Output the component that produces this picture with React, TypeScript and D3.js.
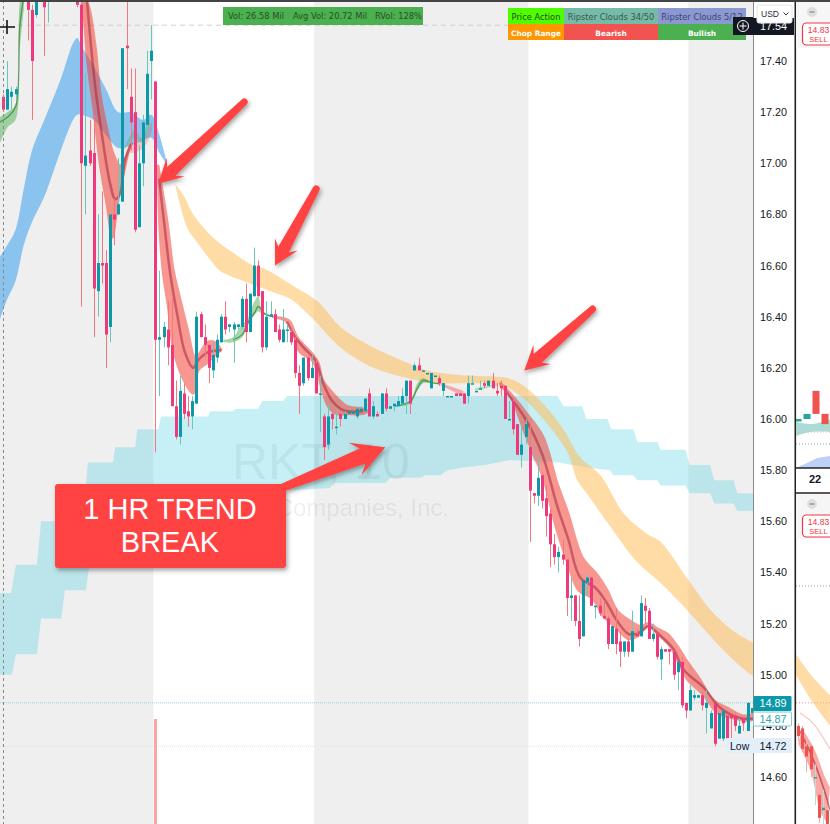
import { scaleLinear, line, curveCatmullRom, curveLinear } from "d3";

// candles, one per 30 min bar (prices above the top of the pane are simply clipped)
const opens = [
  17.26,17.21,17.26,17.27,17.70,17.78,17.80,17.60,17.58,17.80,
  17.72,17.66,17.80,17.75,17.85,17.80,17.90,17.85,17.78,17.62,
  16.99,17.05,17.04,16.50,16.61,16.61,16.36,16.80,16.80,16.85,
  17.46,17.26,17.20,16.75,17.00,17.15,17.40,17.32,16.31,16.32,
  16.35,16.29,16.05,15.93,16.10,16.03,16.01,16.06,16.41,16.32,
  16.29,16.19,16.24,16.30,16.40,16.36,16.35,16.36,16.36,16.47,
  16.34,16.48,16.60,16.50,16.28,16.40,16.41,16.35,16.30,16.35,
  16.34,16.31,16.18,16.14,16.24,16.16,16.22,16.10,16.01,15.90,
  16.02,15.97,16.02,16.00,16.02,16.02,16.01,16.03,16.03,16.10,
  16.01,16.02,16.02,16.10,16.04,16.05,16.05,16.06,16.09,16.15,
  16.19,16.21,16.19,16.18,16.12,16.17,16.16,16.11,16.09,16.09,
  16.10,16.10,16.10,16.09,16.14,16.11,16.12,16.14,16.13,16.15,
  16.11,16.13,16.13,16.00,16.07,15.98,15.86,15.93,15.89,15.71,
  15.70,15.78,15.69,15.63,15.51,15.46,15.47,15.45,15.30,15.31,
  15.21,15.15,15.36,15.38,15.27,15.27,15.23,15.22,15.12,15.18,
  15.13,15.09,15.13,15.09,15.16,15.15,15.27,15.25,15.14,15.16,
  15.06,15.10,15.10,15.09,15.01,15.05,14.89,14.86,14.91,14.91,
  14.92,14.87,14.79,14.89,14.75,14.75,14.84,14.84,14.84,14.77,
  14.83,14.78,14.85,
];
const closes = [
  17.21,17.29,17.28,17.29,17.78,17.85,17.60,17.40,17.75,17.72,
  17.61,17.76,17.75,17.85,17.80,17.90,17.85,17.78,17.62,17.00,
  17.03,17.00,16.51,16.61,16.60,16.33,16.80,16.78,16.84,17.45,
  17.45,17.16,16.74,17.00,17.16,17.35,17.44,16.31,16.32,16.36,
  16.28,16.05,15.93,16.11,16.02,16.01,16.07,16.40,16.32,16.29,
  16.20,16.25,16.31,16.40,16.35,16.37,16.37,16.37,16.47,16.34,
  16.49,16.60,16.48,16.28,16.40,16.41,16.34,16.31,16.35,16.35,
  16.30,16.18,16.13,16.24,16.16,16.20,16.10,16.10,15.89,16.01,
  16.00,15.97,16.00,16.02,16.03,16.03,16.04,16.04,16.08,16.01,
  16.05,16.01,16.10,16.04,16.05,16.06,16.07,16.09,16.15,16.06,
  16.21,16.19,16.19,16.18,16.18,16.17,16.14,16.14,16.09,16.09,
  16.09,16.09,16.06,16.14,16.14,16.11,16.12,16.13,16.15,16.12,
  16.10,16.12,16.00,16.00,15.96,15.86,15.90,15.98,15.72,15.70,
  15.77,15.68,15.62,15.51,15.46,15.48,15.45,15.30,15.31,15.21,
  15.14,15.37,15.38,15.27,15.27,15.24,15.22,15.12,15.19,15.12,
  15.09,15.13,15.09,15.17,15.15,15.28,15.25,15.14,15.16,15.07,
  15.10,15.09,15.09,15.00,15.05,14.88,14.86,14.94,14.92,14.92,
  14.88,14.89,14.85,14.73,14.85,14.86,14.75,14.83,14.80,14.80,
  14.81,14.89,14.87,
];
const highs = [
  17.27,17.40,17.30,17.30,17.80,17.88,17.85,17.62,17.80,17.85,
  17.75,17.80,17.85,17.88,17.90,17.95,17.95,17.88,17.80,17.64,
  17.35,17.17,17.19,16.80,16.89,16.66,16.80,16.86,17.02,17.45,
  17.63,17.37,17.37,17.07,17.19,17.44,17.54,17.32,16.58,16.38,
  16.46,16.47,16.15,16.17,16.14,16.09,16.09,16.42,16.42,16.37,
  16.29,16.30,16.33,16.41,16.46,16.37,16.38,16.37,16.48,16.53,
  16.49,16.67,16.62,16.50,16.46,16.46,16.43,16.37,16.43,16.37,
  16.35,16.32,16.21,16.24,16.25,16.25,16.23,16.17,16.02,16.06,
  16.04,16.03,16.03,16.03,16.03,16.03,16.04,16.05,16.08,16.12,
  16.07,16.03,16.10,16.12,16.05,16.06,16.09,16.12,16.15,16.15,
  16.22,16.24,16.19,16.18,16.18,16.17,16.17,16.14,16.09,16.09,
  16.10,16.10,16.10,16.17,16.17,16.11,16.15,16.15,16.15,16.18,
  16.14,16.15,16.13,16.07,16.08,15.98,15.98,16.00,16.00,15.71,
  15.85,15.79,15.74,15.65,15.55,15.50,15.53,15.45,15.38,15.31,
  15.31,15.37,15.39,15.38,15.27,15.30,15.29,15.23,15.19,15.26,
  15.17,15.13,15.14,15.25,15.18,15.31,15.30,15.26,15.20,15.16,
  15.11,15.10,15.10,15.09,15.05,15.07,14.89,14.96,14.94,14.92,
  14.94,14.94,14.86,14.89,14.85,14.86,14.84,14.84,14.85,14.83,
  14.84,14.89,14.87,
];
const lows = [
  17.20,17.21,17.21,17.25,17.66,17.75,17.48,17.17,17.57,17.70,
  17.42,17.55,17.72,17.72,17.76,17.78,17.82,17.72,17.61,16.44,
  16.80,16.99,16.32,16.40,16.53,16.20,16.30,16.68,16.80,16.85,
  17.29,17.05,16.73,16.75,16.91,17.11,17.25,15.87,16.09,16.28,
  16.21,16.05,15.92,15.90,16.00,15.97,15.96,16.06,16.32,16.24,
  16.14,16.16,16.22,16.30,16.33,16.34,16.22,16.35,16.35,16.30,
  16.34,16.48,16.48,16.26,16.27,16.40,16.34,16.30,16.30,16.30,
  16.29,16.16,16.02,16.13,16.15,16.16,16.10,15.95,15.84,15.88,
  15.96,15.94,15.97,16.00,16.02,16.02,16.00,16.03,16.03,16.01,
  16.00,16.01,16.02,16.03,16.04,16.03,16.05,16.05,16.02,16.02,
  16.19,16.19,16.19,16.18,16.12,16.17,16.13,16.09,16.09,16.09,
  16.09,16.09,16.06,16.06,16.14,16.11,16.12,16.12,16.13,16.12,
  16.09,16.09,16.00,16.00,15.94,15.86,15.81,15.90,15.52,15.67,
  15.66,15.65,15.54,15.42,15.43,15.40,15.43,15.23,15.21,15.19,
  15.11,15.15,15.31,15.27,15.22,15.23,15.22,15.10,15.12,15.08,
  15.03,15.07,15.07,15.09,15.15,15.15,15.20,15.14,15.13,15.06,
  14.98,15.09,15.04,14.98,14.94,14.87,14.83,14.86,14.90,14.91,
  14.86,14.77,14.79,14.72,14.75,14.74,14.75,14.75,14.78,14.77,
  14.78,14.78,14.85,
];

// clouds as [bar index, price]
const tealUpper: [number, number][] = [
  [-1,15.32],[1.9,15.32],[3.1,15.43],[8.2,15.43],[9.2,15.60],[14.3,15.60],[15,15.72],[20,15.72],[20.6,15.83],
  [26.7,15.83],[27.2,15.89],[32.1,15.89],[32.6,15.96],[37.7,15.96],[38.4,16.01],[49.8,16.01],[50.3,16.03],
  [55.9,16.03],[56.6,16.04],[62,16.04],[63,16.07],[68.1,16.07],[69,16.09],[134.8,16.09],[136.2,16.05],
  [140.8,16.05],[141.8,16.00],[146.9,16.00],[147.9,15.96],[153.2,15.96],[154.2,15.91],[159.1,15.91],
  [159.8,15.88],[165.9,15.88],[166.9,15.82],[171.9,15.82],[172.9,15.76],[177.6,15.76],[178.5,15.71],[183,15.71],
];
const tealLower: [number, number][] = [
  [-1,15.00],[2.1,15.00],[3.1,15.08],[8.2,15.08],[9.2,15.22],[14.1,15.22],[15,15.33],[20.1,15.33],[20.9,15.42],
  [27.2,15.42],[28,15.51],[34,15.51],[34.7,15.59],[40.6,15.59],[41.3,15.64],[47.9,15.64],[48.6,15.69],
  [57.6,15.69],[58.3,15.71],[79.5,15.73],[80.2,15.75],[92.9,15.75],[94.1,15.77],[101.4,15.77],[102.6,15.78],
  [106.3,15.78],[108,15.80],[111.9,15.81],[117.2,15.82],[123.3,15.84],[135,15.83],[142,15.81],[147.6,15.80],
  [148.4,15.78],[153.2,15.78],[154.2,15.76],[159.1,15.76],[159.8,15.74],[165.9,15.74],[166.9,15.71],
  [171.9,15.71],[172.9,15.67],[177.6,15.67],[178.5,15.64],[183,15.64],
];
const blueUpper: [number, number][] = [
  [-1,16.63],[1,16.68],[3,16.74],[5,16.90],[7,17.05],[10,17.17],[14,17.33],[17,17.47],[18,17.49],[19,17.46],
  [22,17.38],[25,17.29],[28,17.20],[31,17.20],[34,17.17],[36,17.19],[38,17.11],[40,16.99],
];
const blueLower: [number, number][] = [
  [-1,16.38],[1,16.47],[3,16.54],[5,16.68],[7,16.77],[10,16.87],[14,17.05],[17,17.17],[18,17.19],[19,17.19],
  [22,17.17],[25,17.11],[28,17.06],[31,17.07],[34,17.09],[36,17.10],[38,17.04],[40,16.99],
];
const orangeUpper: [number, number][] = [
  [41.8,16.92],[44,16.87],[46.2,16.80],[51,16.71],[55.9,16.65],[60.8,16.60],[63.2,16.59],[65.6,16.57],
  [70.5,16.52],[76.4,16.46],[82,16.36],[90,16.28],[98.3,16.22],[103.1,16.19],[112.8,16.17],[122.6,16.16],
  [126.5,16.13],[131.3,16.06],[136.2,15.96],[140.3,15.85],[145.2,15.78],[150.9,15.63],[156.6,15.55],
  [159.8,15.52],[166.6,15.37],[172.7,15.24],[178.5,15.16],[183,15.12],
];
const orangeLower: [number, number][] = [
  [41.8,16.92],[44.7,16.75],[47.2,16.69],[51,16.61],[52.7,16.58],[60,16.53],[64.9,16.50],[69.8,16.47],[75.4,16.39],
  [82,16.28],[90,16.20],[98.3,16.16],[104.6,16.14],[112.8,16.14],[121.6,16.13],[126.5,16.08],[131.3,16.00],
  [137.2,15.87],[139.6,15.76],[142.3,15.70],[147.6,15.58],[154.2,15.44],[159.8,15.36],[164.7,15.28],
  [170.3,15.18],[176.1,15.08],[181,15.01],[183,14.99],
];
const redOneUpper: [number, number][] = [
  [18.5,17.66],[20.4,17.63],[22.3,17.47],[23.6,17.27],[25.3,17.13],[26.7,17.04],[28.4,16.99],[29.4,17.01],[30.8,17.07],
];
const redOneLower: [number, number][] = [
  [18.5,17.66],[19.2,17.63],[20.6,17.38],[22.1,17.20],[23.6,16.99],[25.3,16.83],[26.5,16.71],[28,16.86],[29.4,16.97],[30.8,17.07],
];
const redOneMid: [number, number][] = [
  [20.4,17.63],[22.3,17.31],[24.3,17.08],[26,16.92],[27.2,16.86],[28.4,16.88],[29.6,17.01],[31.3,17.08],
];
const redFadeUpper: [number, number][] = [[30.8,17.07],[33.3,17.09],[35,17.12],[36.2,17.17]];
const redFadeLower: [number, number][] = [[30.8,17.04],[33.3,17.05],[35,17.08],[36.2,17.13]];
const redTwoUpper: [number, number][] = [
  [37.7,16.99],[39.9,16.77],[41.3,16.59],[43,16.47],[44.7,16.36],[46.7,16.24],[47.9,16.26],[49.6,16.30],[51.5,16.30],[53,16.27],
];
const redTwoLower: [number, number][] = [
  [37.7,16.97],[38.1,16.73],[38.9,16.57],[40.1,16.44],[41.3,16.28],[43.7,16.16],[46.2,16.10],[47.4,16.19],[49.6,16.22],[51.5,16.25],[53,16.27],
];
const redTwoMid: [number, number][] = [
  [37.9,16.94],[39.4,16.73],[40.6,16.57],[42.3,16.41],[44.2,16.26],[46.2,16.20],[47.4,16.23],[49.6,16.26],[53,16.27],
];
const redThreeUpper: [number, number][] = [
  [65.6,16.40],[69,16.39],[69.8,16.38],[71.5,16.32],[75.4,16.25],[76.6,16.22],[77.8,16.15],[80.2,16.10],[83.6,16.05],[87.5,16.04],[88.8,16.03],
];
const redThreeLower: [number, number][] = [
  [65.6,16.40],[69,16.38],[71,16.31],[72.2,16.26],[75.1,16.23],[76.3,16.19],[77.6,16.11],[79,16.05],[81.2,16.02],[83.6,16.02],[87.5,16.02],[88.8,16.03],
];
const redThreeMid: [number, number][] = [
  [69,16.38],[71,16.32],[73,16.28],[75.9,16.23],[77.8,16.14],[80,16.07],[82,16.04],[83.6,16.03],[87.5,16.03],
];
const redThinUpper: [number, number][] = [[106.5,16.14],[111.9,16.11]];
const redThinLower: [number, number][] = [[106.5,16.13],[111.9,16.09]];
const redFourUpper: [number, number][] = [
  [120.9,16.14],[123.3,16.10],[127.4,16.02],[131.3,15.93],[134.7,15.75],[137.4,15.63],[140.8,15.46],[144.5,15.39],
  [146.9,15.33],[149.3,15.25],[152.5,15.21],[154.9,15.19],[156.9,15.20],[159.1,15.18],[161.5,15.16],[164,15.11],
  [166.4,15.05],[169.5,14.98],[172.7,14.90],[176.1,14.87],[180,14.84],[183,14.85],
];
const redFourLower: [number, number][] = [
  [120.9,16.13],[123.3,16.09],[126.5,15.96],[128.7,15.87],[131.3,15.77],[134.7,15.56],[137.4,15.43],[139.9,15.33],
  [143.2,15.30],[145.9,15.23],[149.3,15.18],[152,15.14],[154.2,15.15],[156.9,15.19],[159.1,15.16],[162.2,15.11],
  [164.7,15.03],[166.4,14.98],[170.3,14.92],[173.7,14.85],[177.6,14.83],[181,14.82],[183,14.83],
];
const redFourMid: [number, number][] = [
  [122.1,16.11],[127,16.00],[131.1,15.86],[134.7,15.66],[137.4,15.53],[140.3,15.38],[144,15.34],[146.4,15.29],
  [149.3,15.21],[152,15.16],[154.2,15.16],[156.9,15.19],[159.3,15.16],[163,15.10],[165.4,15.02],[170.3,14.95],
  [174.4,14.87],[179.3,14.83],[183,14.83],
];
const greenOneUpper: [number, number][] = [[-1,17.18],[1,17.20],[3,17.23],[4,17.62],[5,17.68]];
const greenOneLower: [number, number][] = [[-1,17.07],[1,17.14],[3,17.17],[4,17.44],[5,17.60]];
const greenOneMid: [number, number][] = [[-1,17.16],[1,17.18],[3,17.22],[4,17.53],[5,17.65]];
const greenTwoUpper: [number, number][] = [
  [53.5,16.31],[55.9,16.32],[57.6,16.36],[59.3,16.39],[60.8,16.45],[62,16.48],[63,16.42],[64.4,16.41],[65.6,16.40],
];
const greenTwoLower: [number, number][] = [
  [53.5,16.30],[55.9,16.30],[58.1,16.32],[59.3,16.36],[60.8,16.40],[62,16.42],[63,16.41],[65.6,16.40],
];
const greenTwoMid: [number, number][] = [
  [55.9,16.31],[58.1,16.33],[59.6,16.38],[61.3,16.42],[62,16.44],[63.7,16.41],[65.6,16.40],
];
const greenThreeUpper: [number, number][] = [[95.3,16.05],[99,16.07],[100.7,16.14],[102.1,16.16],[104.6,16.14],[106.3,16.14]];
const greenThreeLower: [number, number][] = [[95.3,16.05],[99,16.06],[100.7,16.11],[102.1,16.14],[104.6,16.14],[106.3,16.13]];
const greenThreeMid: [number, number][] = [[95.3,16.05],[99,16.07],[100.7,16.12],[102.1,16.15],[104.6,16.14],[106.3,16.14]];
const greenFaintUpper: [number, number][] = [[114.8,16.12],[120.1,16.14]];
const greenFaintLower: [number, number][] = [[114.8,16.11],[120.1,16.13]];
const greenTwistUpper: [number, number][] = [[29.5,17.06],[32,17.13],[33.5,17.10],[35.7,17.20]];
const greenTwistLower: [number, number][] = [[29.5,17.05],[32,17.10],[33.5,17.08],[35.7,17.15]];

const priceTicks = [17.4,17.2,17.0,16.8,16.6,16.4,16.2,16.0,15.8,15.6,15.4,15.2,15.0,14.8,14.6];
const greySessions: [number, number][] = [[-1,36.5],[75.6,127.7],[166.6,183]];
const volumeSpikeBar = 37;
const volumeSpike = 26.58;
const lastPrice = 14.89;
const lowPrice = 14.72;
const crosshairPrice = 17.54;
const legendRows = [
  [["Price Action","#4dfd00","#2c4a1c"],["Ripster Clouds 34/50","#76bba8","#35584e"],["Ripster Clouds 5/12","#8b98d2","#3c4470"]],
  [["Chop Range","#ff9800","#ffffff"],["Bearish","#f05350","#ffffff"],["Bullish","#4caf50","#ffffff"]],
];
const legendColumns = [56, 94, 88];

// neighbour pane on the right, same price scale
const miniOpens = [14.80,14.79,14.72,14.72,14.60,14.53,14.47,14.47,14.44];
const miniCloses = [14.76,14.71,14.68,14.63,14.60,14.44,14.48,14.41,14.40];
const miniHighs = [14.81,14.80,14.74,14.73,14.65,14.56,14.55,14.48,14.45];
const miniLows = [14.74,14.70,14.62,14.60,14.49,14.42,14.38,14.38,14.38];
const miniOrangeUpper: [number, number][] = [[-0.6,15.08],[3.6,14.99],[7.7,14.92]];
const miniOrangeLower: [number, number][] = [[-0.6,15.00],[3.6,14.89],[7.7,14.80]];
const miniPinkLine: [number, number][] = [[0.4,14.85],[3.6,14.81],[7.7,14.71]];
const miniRedUpper: [number, number][] = [[0.9,14.79],[3.6,14.72],[6.5,14.60],[7.7,14.56]];
const miniRedLower: [number, number][] = [[0,14.73],[2.9,14.63],[5.3,14.47],[7,14.42]];
const miniRedMid: [number, number][] = [[0.4,14.78],[3.6,14.67],[6.5,14.54],[7.7,14.47]];
const upperPaneOpens = [15.99,16.00,16.11,16.02];
const upperPaneCloses = [16.00,16.02,16.02,15.98];
const upperPaneTealUpper: [number, number][] = [[-0.5,15.99],[1.5,15.98],[3.7,16.00]];
const upperPaneTealLower: [number, number][] = [[-0.5,15.93],[1.5,15.95],[3.7,15.95]];

// arrows as [bar index, price] for tail and tip, last one is drawn larger
const arrows: [number, number, number, number, number][] = [
  [58.6,17.24,37.7,16.92,1],
  [76.1,16.90,66.1,16.60,1],
  [143.3,16.43,126.7,16.19,1],
  [66.1,15.72,92.9,15.89,1.35],
];

const PANE_W = 753;
const H = 824;
const FONT = "'Liberation Sans', Arial, sans-serif";
const UI_FONT = "'DejaVu Sans', sans-serif";
const TEAL = "#0b98a8";
const PINK = "#ee3a7c";

const x = scaleLinear().domain([0, 182]).range([3.2, 751.7]);
const y = scaleLinear().domain([17.4, 14.6]).range([61, 777]);
const miniX = scaleLinear().domain([0, 8]).range([798.3, 831.1]);
const upperX = scaleLinear().domain([0, 3]).range([798, 825]);
const volumeY = scaleLinear().domain([0, 26.58]).range([H, 719]);

const band = (upper: [number, number][], lower: [number, number][], sx = x, stepped = false) => {
  const path = line<[number, number]>()
    .x((d) => sx(d[0]))
    .y((d) => y(d[1]))
    .curve(stepped ? curveLinear : curveCatmullRom);
  return `${path(upper)}L${path([...lower].reverse())!.slice(1)}Z`;
};
const mid = (pts: [number, number][], sx = x) =>
  line<[number, number]>()
    .x((d) => sx(d[0]))
    .y((d) => y(d[1]))
    .curve(curveCatmullRom)(pts)!;

const arrowPath = ([ti, tp, hi, hp, s]: [number, number, number, number, number]) => {
  const x0 = x(ti), y0 = y(tp), x1 = x(hi), y1 = y(hp);
  const len = Math.hypot(x1 - x0, y1 - y0);
  const ux = (x1 - x0) / len, uy = (y1 - y0) / len;
  const nx = -uy, ny = ux;
  const p = (back: number, side: number) => `${x1 - ux * back + nx * side},${y1 - uy * back + ny * side}`;
  return `M${p(len, 3.5)}L${p(18 * s, 6 * s)}L${p(24 * s, 13 * s)}L${p(0, 0)}L${p(24 * s, -13 * s)}L${p(18 * s, -6 * s)}L${p(len, -3.5)}A3.5 3.5 0 0 0 ${p(len, 3.5)}Z`;
};

const RedCloud = ({ upper, lower, center }: { upper: [number, number][]; lower: [number, number][]; center: [number, number][] }) => (
  <g>
    <path d={band(upper, lower)} fill="#f44336" stroke="#f44336" strokeWidth={2.5} strokeLinejoin="round" opacity={0.55} />
    <path d={mid(center)} fill="none" stroke="#a01c3a" strokeOpacity={0.5} strokeWidth={2.5} />
  </g>
);
const GreenCloud = ({ upper, lower, center }: { upper: [number, number][]; lower: [number, number][]; center: [number, number][] }) => (
  <g>
    <path d={band(upper, lower)} fill="#4caf50" fillOpacity={0.5} />
    <path d={mid(center)} fill="none" stroke="#2e7d32" strokeOpacity={0.7} strokeWidth={1.3} />
  </g>
);

const SellButton = ({ top }: { top: number }) => (
  <g>
    <rect x={802.5} y={top} width={40} height={22} rx={4} fill="#fff" stroke="#f23645" strokeWidth={1.2} />
    <text x={818.5} y={top + 9.5} textAnchor="middle" fontSize={8.6} fontFamily={FONT} fill="#f23645">14.83</text>
    <text x={818.5} y={top + 18.5} textAnchor="middle" fontSize={7.5} fontFamily={FONT} fill="#f23645">SELL</text>
  </g>
);

const App = () => (
  <svg
    width={830}
    height={H}
    viewBox={`0 0 830 ${H}`}
    style={{ position: "absolute", left: 0, top: 0, display: "block", background: "#fff" }}
  >
    <defs>
      <clipPath id="pane"><rect x={0} y={2} width={PANE_W} height={H} /></clipPath>
      <clipPath id="side"><rect x={796} y={2} width={34} height={H} /></clipPath>
      <filter id="shadow" x="-20%" y="-20%" width="140%" height="140%">
        <feDropShadow dx={1.5} dy={2.5} stdDeviation={2} floodColor="#333" floodOpacity={0.45} />
      </filter>
    </defs>

    <g clipPath="url(#pane)">
      {greySessions.map(([a, b]) => (
        <rect key={a} x={x(a)} y={0} width={x(b) - x(a)} height={H} fill="#efefef" />
      ))}

      <text x={232} y={479} fontSize={50} fontFamily={FONT} fill="#000" fillOpacity={0.07}>RKT, 10</text>
      <text x={449} y={516} textAnchor="end" fontSize={24} fontFamily={FONT} fill="#000" fillOpacity={0.08}>Rocket Companies, Inc.</text>

      <path d={band(tealUpper, tealLower, x, true)} fill="#4dd0e1" fillOpacity={0.32} />
      <path d={band(blueUpper, blueLower)} fill="#5aaeee" fillOpacity={0.68} />
      <path d={band(orangeUpper, orangeLower)} fill="#ffb74d" fillOpacity={0.5} />

      <line x1={18} x2={PANE_W} y1={y(crosshairPrice)} y2={y(crosshairPrice)} stroke="#cfcfcf" strokeWidth={1} strokeDasharray="5 4" />
      <line x1={0} x2={PANE_W} y1={y(lastPrice)} y2={y(lastPrice)} stroke="#8fd0d6" strokeWidth={1} strokeDasharray="1 1" />
      <line x1={0} x2={PANE_W} y1={y(lowPrice)} y2={y(lowPrice)} stroke="#e2e2e2" strokeWidth={1} strokeDasharray="1 1" />

      <RedCloud upper={redOneUpper} lower={redOneLower} center={redOneMid} />
      <path d={band(redFadeUpper, redFadeLower)} fill="#f44336" fillOpacity={0.25} />
      <RedCloud upper={redTwoUpper} lower={redTwoLower} center={redTwoMid} />
      <RedCloud upper={redThreeUpper} lower={redThreeLower} center={redThreeMid} />
      <path d={band(redThinUpper, redThinLower)} fill="#f44336" fillOpacity={0.4} />
      <RedCloud upper={redFourUpper} lower={redFourLower} center={redFourMid} />
      <GreenCloud upper={greenOneUpper} lower={greenOneLower} center={greenOneMid} />
      <GreenCloud upper={greenTwoUpper} lower={greenTwoLower} center={greenTwoMid} />
      <GreenCloud upper={greenThreeUpper} lower={greenThreeLower} center={greenThreeMid} />
      <path d={band(greenFaintUpper, greenFaintLower)} fill="#4caf50" fillOpacity={0.35} />
      <path d={band(greenTwistUpper, greenTwistLower)} fill="#4caf50" fillOpacity={0.35} />

      <rect
        x={Math.round(x(volumeSpikeBar)) - 1}
        y={volumeY(volumeSpike)}
        width={3}
        height={H - volumeY(volumeSpike)}
        fill="#fca5a5"
      />

      {opens.map((o, i) => {
        const c = closes[i];
        const up = c >= o;
        const cx = Math.round(x(i));
        const top = y(Math.max(o, c));
        const bottom = y(Math.min(o, c));
        return (
          <g key={i}>
            <line x1={cx + 0.5} x2={cx + 0.5} y1={y(highs[i])} y2={y(lows[i])} stroke={up ? "#66c7bc" : "#f4767e"} strokeWidth={1} />
            <rect x={cx - 1} y={top} width={3} height={Math.max(bottom - top, 1.5)} fill={up ? TEAL : PINK} />
          </g>
        );
      })}
    </g>

    <line x1={3.5} x2={3.5} y1={0} y2={H} stroke="#8a8a8a" strokeDasharray="3 3" />
    <path d="M7 20V34M0 27H15" stroke="#111" strokeWidth={1.6} fill="none" />

    {/* header strips */}
    <rect x={223} y={7} width={200} height={18} fill="#4caf50" />
    <g fontFamily={UI_FONT} fontSize={8.3} fill="#27502a">
      <text x={228} y={19}>Vol: 26.58 Mil</text>
      <text x={293} y={19}>Avg Vol: 20.72 Mil</text>
      <text x={375} y={19}>RVol: 128%</text>
    </g>
    {legendRows.map((row, r) => {
      let left = 508;
      return row.map(([label, bg, fg], c) => {
        const w = legendColumns[c];
        const cell = (
          <g key={label}>
            <rect x={left} y={8 + r * 16} width={w} height={16} fill={bg} />
            <text
              x={left + w / 2}
              y={19.5 + r * 16}
              textAnchor="middle"
              fontSize={r === 1 ? 7.4 : 8.3}
              fontWeight={r === 1 ? 700 : 400}
              fontFamily={UI_FONT}
              fill={fg}
            >
              {label}
            </text>
          </g>
        );
        left += w;
        return cell;
      });
    })}

    {/* annotation */}
    <g filter="url(#shadow)">
      {arrows.map((a) => (
        <path key={a[0]} d={arrowPath(a)} fill="#ff4343" />
      ))}
      <rect x={55} y={484} width={231} height={84} rx={3} fill="#ff4343" />
    </g>
    <g fontFamily={FONT} fontSize={29} fill="#fff" textAnchor="middle">
      <text x={170} y={519}>1 HR TREND</text>
      <text x={170} y={552}>BREAK</text>
    </g>

    {/* price scale */}
    <rect x={PANE_W} y={0} width={43} height={H} fill="#fff" />
    <line x1={753.5} x2={753.5} y1={0} y2={H} stroke="#8a8a8a" strokeWidth={1} />
    {priceTicks.map((t) => (
      <text key={t} x={773.5} y={y(t)} dy={4} textAnchor="middle" fontSize={10.8} fontFamily={FONT} fill="#131722">
        {t.toFixed(2)}
      </text>
    ))}
    <rect x={733} y={17} width={20} height={18} fill="#131722" />
    <circle cx={743} cy={26} r={5.5} fill="none" stroke="#fff" strokeWidth={1} />
    <path d="M743 22.5V29.5M739.5 26H746.5" stroke="#fff" strokeWidth={1} />
    <rect x={753} y={18} width={41} height={17} fill="#131722" />
    <text x={773.5} y={y(crosshairPrice)} dy={5} textAnchor="middle" fontSize={10.8} fontFamily={FONT} fill="#fff">17.54</text>
    <rect x={757} y={5} width={35} height={18} rx={2} fill="#fff" stroke="#e4e4e4" />
    <text x={761} y={17} fontSize={8.5} fontFamily={FONT} fill="#1f2a44">USD</text>
    <path d="M783.5 12.5L786 15L788.5 12.5" fill="none" stroke="#333" />

    <rect x={753.5} y={696} width={38} height={15} fill={TEAL} rx={1} />
    <text x={773} y={y(lastPrice)} dy={4} textAnchor="middle" fontSize={10.8} fontFamily={FONT} fill="#fff">14.89</text>
    <rect x={753.5} y={712} width={38} height={14} fill="#fff" stroke="#7ccbd2" rx={1} />
    <text x={773} y={723} textAnchor="middle" fontSize={10.8} fontFamily={FONT} fill="#28a8b4">14.87</text>
    <rect x={726} y={738} width={66} height={15} fill="#e3eefb" rx={1} />
    <text x={730} y={749.5} fontSize={10.5} fontFamily={FONT} fill="#131722">Low</text>
    <text x={773} y={y(lowPrice)} dy={4} textAnchor="middle" fontSize={10.8} fontFamily={FONT} fill="#131722">14.72</text>

    {/* neighbour panes */}
    <rect x={794.5} y={0} width={1.6} height={H} fill="#222" />
    <rect x={796} y={2} width={34} height={46} fill="#f6f6f6" />
    <rect x={796} y={494} width={34} height={45} fill="#f6f6f6" />
    <g clipPath="url(#side)">
      <circle cx={812} cy={12} r={5} fill="#dedede" />
      <path d="M809.5 12H814.5" stroke="#888" strokeWidth={1.2} />
      <circle cx={812} cy={504} r={5} fill="#dedede" />
      <path d="M809.5 504H814.5" stroke="#888" strokeWidth={1.2} />
      <SellButton top={23} />
      <SellButton top={515} />

      <line x1={796} x2={830} y1={586} y2={586} stroke="#9a9a9a" strokeDasharray="1 2" />
      <line x1={796} x2={830} y1={y(lastPrice)} y2={y(lastPrice)} stroke="#f28b82" strokeDasharray="1 2" />
      <path d={band(miniOrangeUpper, miniOrangeLower, miniX)} fill="#ffb74d" fillOpacity={0.5} />
      <path d={mid(miniPinkLine, miniX)} fill="none" stroke="#f9c4c4" strokeWidth={1.2} />
      <path d={band(miniRedUpper, miniRedLower, miniX)} fill="#f44336" fillOpacity={0.45} />
      <path d={mid(miniRedMid, miniX)} fill="none" stroke="#a8203a" strokeOpacity={0.6} strokeWidth={1.6} />
      {miniOpens.map((o, i) => {
        const c = miniCloses[i];
        const up = c >= o;
        const cx = Math.round(miniX(i));
        const top = y(Math.max(o, c));
        const bottom = y(Math.min(o, c));
        return (
          <g key={i}>
            <line x1={cx + 0.5} x2={cx + 0.5} y1={y(miniHighs[i])} y2={y(miniLows[i])} stroke={up ? "#b2dfdb" : "#f7a8a8"} />
            <rect x={cx - 1} y={top} width={3} height={Math.max(bottom - top, 1.5)} fill={up ? "#26a69a" : "#ef5350"} />
          </g>
        );
      })}

      <path d={band(upperPaneTealUpper, upperPaneTealLower, upperX)} fill="#a8dcd4" />
      <line x1={796} x2={830} y1={432} y2={432} stroke="#f2a6a6" strokeDasharray="1 2" />
      <line x1={796} x2={830} y1={444} y2={444} stroke="#9a9a9a" strokeDasharray="1 2" />
      {upperPaneOpens.map((o, i) => {
        const c = upperPaneCloses[i];
        const top = y(Math.max(o, c));
        const bottom = y(Math.min(o, c));
        return (
          <rect
            key={i}
            x={upperX(i) - 3.5}
            y={top}
            width={7}
            height={Math.max(bottom - top, 1.5)}
            fill={c >= o ? "#26a69a" : "#ef5350"}
          />
        );
      })}
      <path d="M796 468L807 463L817 458L830 456V468Z" fill="#bcd1f5" />
      <rect x={796} y={468} width={34} height={25} fill="#fff" />
      <line x1={796} x2={830} y1={468} y2={468} stroke="#222" strokeWidth={1.4} />
      <line x1={796} x2={830} y1={493} y2={493} stroke="#222" strokeWidth={1.4} />
      <text x={815} y={483} textAnchor="middle" fontSize={11} fontWeight={700} fontFamily={FONT} fill="#131722">22</text>
    </g>

    <rect x={0} y={0} width={830} height={2} fill="#444" />
  </svg>
);

export default App;
